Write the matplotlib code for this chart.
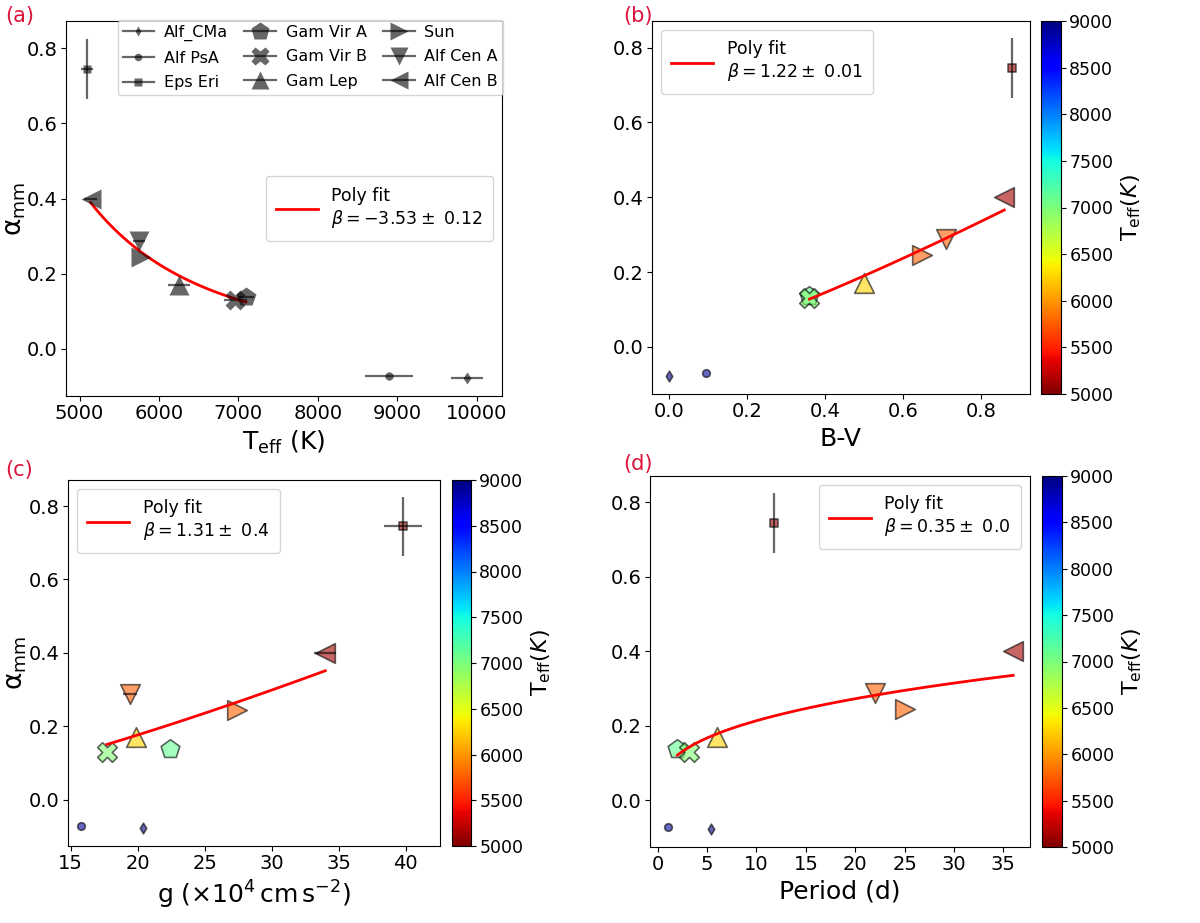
import numpy as np
import matplotlib
matplotlib.use("Agg")
from matplotlib import pyplot as plt
from matplotlib import cm, colors
from matplotlib.lines import Line2D

plt.rcParams['font.family'] = ['DejaVu Sans']

# star data
names = ['Alf_CMa', 'Alf PsA', 'Eps Eri', 'Gam Vir A', 'Gam Vir B', 'Gam Lep',
         'Sun', 'Alf Cen A', 'Alf Cen B']
markers = ['d', 'o', 's', 'p', 'X', '^', '>', 'v', '<']
big = [False, False, False, True, True, True, True, True, True]
alpha_mm = [-0.077, -0.071, 0.745, 0.137, 0.130, 0.170, 0.245, 0.288, 0.400]
alpha_err = [0.0, 0.0, 0.08, 0.0, 0.0, 0.0, 0.0, 0.0, 0.0]
teff = [9880, 8900, 5100, 7095, 6960, 6255, 5770, 5750, 5140]
teff_err = [200, 300, 75, 100, 145, 135, 0, 80, 80]
bv = [0.0, 0.094, 0.88, 0.36, 0.36, 0.50, 0.65, 0.71, 0.86]
grav = [20.4, 15.8, 39.8, 22.4, 17.7, 19.9, 27.4, 19.4, 34.0]
grav_err = [0.0, 0.0, 1.43, 0.0, 0.0, 0.0, 0.0, 0.53, 0.83]
period = [5.4, 1.0, 11.8, 2.0, 3.2, 6.0, 25.0, 22.0, 36.0]
fit_idx = [3, 4, 5, 6, 7, 8]
beta_labels = ['Poly fit\n' + r'$\beta = -3.53 \pm$ 0.12',
               'Poly fit\n' + r'$\beta = 1.22 \pm$ 0.01',
               'Poly fit\n' + r'$\beta = 1.31 \pm$ 0.4',
               'Poly fit\n' + r'$\beta = 0.35 \pm$ 0.0']
alpha_label = r'$\mathregular{\alpha_{mm}}$'

W, H = 1200, 923
fig = plt.figure(figsize=(12, 9.23), dpi=100)

def box(l, t, r, b):
    return [l / W, 1 - b / H, (r - l) / W, (b - t) / H]

cmap = plt.get_cmap('jet_r')
norm = colors.Normalize(vmin=5000, vmax=9000)
grey = (0, 0, 0, 0.6)


def draw_fit(ax, x, lbl, loc):
    xs = np.array([x[i] for i in fit_idx])
    ys = np.array([alpha_mm[i] for i in fit_idx])
    p = np.polyfit(np.log(xs), np.log(ys), 1)
    xx = np.linspace(xs.min(), xs.max(), 100)
    ax.plot(xx, np.exp(np.polyval(p, np.log(xx))), color='red', lw=2, label=lbl)
    return ax.legend(loc=loc, fontsize=12.5, handlelength=2.4, borderpad=0.6)


def style(ax):
    ax.tick_params(labelsize=14, pad=2.5)
    ax.set_yticks([0.0, 0.2, 0.4, 0.6, 0.8])


# (a)
ax = fig.add_axes(box(66, 21, 502, 396))
handles = []
for i in range(len(names)):
    ms = 15 if big[i] else 6
    ax.errorbar(teff[i], alpha_mm[i], xerr=teff_err[i] or None,
                yerr=alpha_err[i] or None, marker=markers[i], ms=ms,
                color=grey, mec='none', ecolor=grey, elinewidth=1.6, ls='none')
    handles.append(Line2D([], [], color=grey, marker=markers[i], ms=ms,
                          mec='none', lw=1.6, label=names[i]))
ax.set_xlim(4830, 10320)
ax.set_ylim(-0.125, 0.872)
ax.set_xticks([5000, 6000, 7000, 8000, 9000, 10000])
ax.set_xlabel(r'T$_{\rm eff}$ (K)', fontsize=18)
ax.set_ylabel(alpha_label, fontsize=19)
ax.yaxis.set_label_coords(-0.087, 0.5)
style(ax)
fit_leg = draw_fit(ax, teff, beta_labels[0], 'center right')
ax.add_artist(fit_leg)
ax.legend(handles=handles, ncol=3, fontsize=11.5, loc='upper center',
          bbox_to_anchor=(0.56, 1.024), handlelength=2.0, markerscale=0.9,
          columnspacing=1.0, borderpad=0.3, labelspacing=0.6,
          handletextpad=0.6)

panels = [
    (bv, None, box(652, 21, 1030, 394), box(1041, 21, 1061, 394),
     (-0.044, 0.926), 'B-V', [0.0, 0.2, 0.4, 0.6, 0.8], False, 'upper left'),
    (grav, grav_err, box(68, 480, 440, 846), box(452, 480, 471, 846),
     (14.8, 42.56), r'g ($\times 10^4\,$cm$\,$s$^{-2}$)', [15, 20, 25, 30, 35, 40],
     True, 'upper left'),
    (period, None, box(650, 476, 1030, 847), box(1042, 476, 1062, 847),
     (-0.78, 37.7), 'Period (d)', [0, 5, 10, 15, 20, 25, 30, 35], False,
     'upper right'),
]

for k, (x, xe, pos, cpos, xlim, xlabel, xt, ylab, loc) in enumerate(panels):
    ax = fig.add_axes(pos)
    for i in range(len(names)):
        s = 200 if big[i] else 30
        ax.scatter(x[i], alpha_mm[i], c=[teff[i]], cmap='jet_r', norm=norm,
                   marker=markers[i], s=s, alpha=0.6, edgecolors='k',
                   linewidths=1.2, zorder=2)
        xerr = xe[i] if xe is not None and xe[i] else None
        yerr = alpha_err[i] or None
        if xerr or yerr:
            ax.errorbar(x[i], alpha_mm[i], xerr=xerr, yerr=yerr, ls='none',
                        ecolor=grey, elinewidth=1.6, zorder=3)
    ax.set_xlim(*xlim)
    ax.set_ylim(-0.126, 0.871)
    ax.set_xticks(xt)
    ax.set_xlabel(xlabel, fontsize=18)
    if ylab:
        ax.set_ylabel(alpha_label, fontsize=19)
        ax.yaxis.set_label_coords(-0.105, 0.5)
    style(ax)
    draw_fit(ax, x, beta_labels[k + 1], loc)
    cax = fig.add_axes(cpos)
    cb = fig.colorbar(cm.ScalarMappable(norm=norm, cmap=cmap), cax=cax)
    cb.set_ticks(np.arange(5000, 9001, 500))
    cb.ax.tick_params(labelsize=12.5, pad=2.5)
    cb.set_label(r'T$_{\rm eff}$$(K)$', fontsize=16, labelpad=4)

for lbl, (xp, yp) in zip(['(a)', '(b)', '(c)', '(d)'],
                         [(5, 22), (623, 22), (5, 476), (623, 470)]):
    fig.text(xp / W, 1 - yp / H, lbl, color='crimson', fontsize=15)

fig.savefig('out.png', dpi=100)
